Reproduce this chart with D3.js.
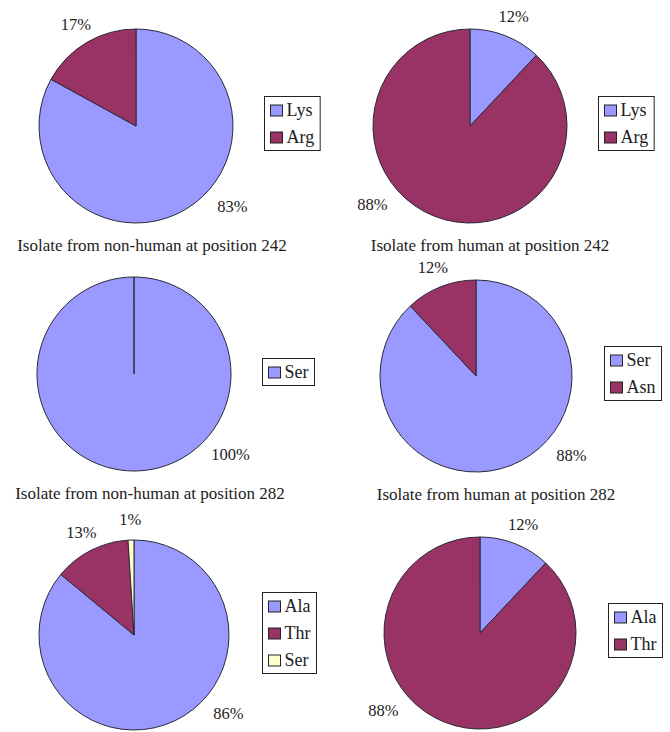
<!DOCTYPE html>
<html>
<head>
<meta charset="utf-8">
<script src="https://cdn.jsdelivr.net/npm/d3@7"></script>
<style>
  html, body { margin: 0; padding: 0; background: #fff; }
  svg { display: block; }
  text { font-family: "Liberation Serif", "DejaVu Serif", serif; fill: #222; }
</style>
</head>
<body>
<svg id="chart" width="670" height="732"></svg>
<script>
// ---- data ----
const titles = [
  "Isolate from non-human at position 242",
  "Isolate from human at position 242",
  "Isolate from non-human at position 282",
  "Isolate from human at position 282",
  null,
  null
];
const cats1 = ["Lys", "Arg"];        const vals1 = [83, 17];
const cats2 = ["Lys", "Arg"];        const vals2 = [12, 88];
const cats3 = ["Ser"];               const vals3 = [100];
const cats4 = ["Ser", "Asn"];        const vals4 = [88, 12];
const cats5 = ["Ala", "Thr", "Ser"]; const vals5 = [86, 13, 1];
const cats6 = ["Ala", "Thr"];        const vals6 = [12, 88];

const palette = ["#9999FF", "#993366", "#FFFFCC"];

// ---- layout (not data) ----
const layout = [
  { cx: 136, cy: 126, r: 97 },
  { cx: 470, cy: 126, r: 97 },
  { cx: 134, cy: 374, r: 97 },
  { cx: 476, cy: 376, r: 96 },
  { cx: 134, cy: 635, r: 95 },
  { cx: 480, cy: 633, r: 96 }
];

const charts = [
  { cats: cats1, vals: vals1 },
  { cats: cats2, vals: vals2 },
  { cats: cats3, vals: vals3 },
  { cats: cats4, vals: vals4 },
  { cats: cats5, vals: vals5 },
  { cats: cats6, vals: vals6 }
];

const svg = d3.select("#chart");
const TAU = Math.PI * 2;
const pie = d3.pie().sort(null).value(d => d.v).startAngle(0).endAngle(TAU - 1e-4);

charts.forEach((c, i) => {
  const L = layout[i];
  const color = d3.scaleOrdinal().domain(c.cats).range(palette);
  const data = c.cats.map((k, j) => ({ k, v: c.vals[j] }));
  const total = d3.sum(c.vals);
  const arcs = pie(data);
  const arc = d3.arc().innerRadius(0).outerRadius(L.r);

  const g = svg.append("g").attr("transform", `translate(${L.cx},${L.cy})`);

  g.selectAll("path.slice").data(arcs).join("path")
    .attr("class", "slice")
    .attr("d", arc)
    .attr("fill", d => color(d.data.k))
    .attr("stroke", "#2a2a3a")
    .attr("stroke-width", 1)
    .attr("stroke-linejoin", "round");

  // percentage labels
  g.selectAll("text.pct").data(arcs).join("text")
    .attr("class", "pct")
    .attr("text-anchor", "middle")
    .attr("dy", "0.35em")
    .style("font-size", "16.5px")
    .attr("transform", d => {
      const share = d.data.v / total;
      let ang, dist;
      if (share > 0.5) {
        const mid = (d.startAngle + d.endAngle) / 2;
        ang = mid <= Math.PI + 0.01 ? Math.PI * 0.72 : Math.PI * 1.285;
        dist = L.r * 1.29;
      } else {
        ang = (d.startAngle + d.endAngle) / 2;
        dist = L.r * 1.22;
      }
      return `translate(${Math.sin(ang) * dist},${-Math.cos(ang) * dist})`;
    })
    .text(d => d3.format(".0f")(d.data.v / total * 100) + "%");

  // legend
  const itemH = 27;
  const lg = svg.append("g");
  const items = lg.selectAll("g.item").data(c.cats).join("g").attr("class", "item");
  items.append("text")
    .attr("x", 22)
    .attr("y", (d, j) => j * itemH + itemH / 2)
    .attr("dy", "0.35em")
    .style("font-size", "18px")
    .text(d => d);
  let maxW = 0;
  items.selectAll("text").each(function () { maxW = Math.max(maxW, this.getComputedTextLength()); });
  const boxW = 22 + maxW + 6;
  const boxH = c.cats.length * itemH;
  lg.insert("rect", ":first-child")
    .attr("x", 0).attr("y", 0)
    .attr("width", boxW).attr("height", boxH)
    .attr("fill", "#fff").attr("stroke", "#222").attr("stroke-width", 1);
  items.append("rect")
    .attr("x", 6)
    .attr("y", (d, j) => j * itemH + itemH / 2 - 5)
    .attr("width", 12).attr("height", 11)
    .attr("fill", d => color(d))
    .attr("stroke", "#222").attr("stroke-width", 1);
  lg.attr("transform", `translate(${L.cx + 128 + 0.5},${Math.round(L.cy - 3 - boxH / 2) + 0.5})`);

  // title below the pie
  if (titles[i]) {
    svg.append("text")
      .attr("x", L.cx + (i % 2 === 0 ? 16 : 20))
      .attr("y", L.cy + L.r + 22)
      .attr("text-anchor", "middle")
      .attr("dy", "0.35em")
      .style("font-size", "17px")
      .text(titles[i]);
  }
});
</script>
</body>
</html>
